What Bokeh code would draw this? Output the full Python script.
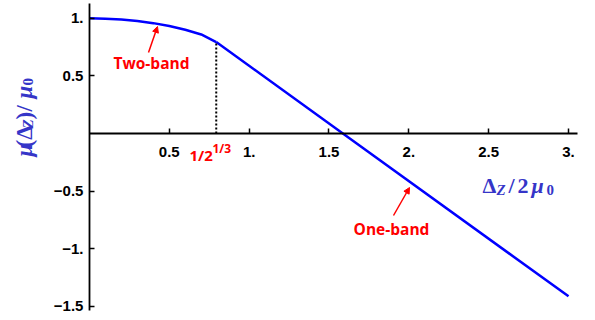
from bokeh.plotting import figure
from bokeh.models import Range1d, LinearAxis, FixedTicker, Label, Arrow, NormalHead
from bokeh.embed import file_html
from bokeh.resources import INLINE
import math

# ---- data ----
x_two = [0.0, 0.1, 0.2, 0.3, 0.4, 0.5, 0.6, 0.7, 0.794]
y_two = [1.0, 0.997, 0.99, 0.977, 0.958, 0.933, 0.9, 0.86, 0.794]
x_one = [0.794, 1.587, 3.0]
y_one = [0.794, 0.0, -1.413]
x_threshold = 0.794
x_ticks = [0.5, 1.0, 1.5, 2.0, 2.5, 3.0]
x_tick_labels = ["0.5", "1.", "1.5", "2.", "2.5", "3."]
y_ticks = [-1.5, -1.0, -0.5, 0.5, 1.0]
y_tick_labels = ["\u22121.5", "\u22121.", "\u22120.5", "0.5", "1."]

W, H = 595, 320
X0, X1 = -0.557, 3.169
Y0, Y1 = -1.623, 1.1545

def px(ix, iy):
    # reference picture pixel -> data coordinates
    return X0 + ix / W * (X1 - X0), Y1 - iy / H * (Y1 - Y0)

BLUE = "#0000ff"
LBL = "#3535c8"
RED = "#ff0000"

p = figure(width=W, height=H, x_range=Range1d(X0, X1), y_range=Range1d(Y0, Y1),
           output_backend="svg", toolbar_location=None, min_border=0,
           x_axis_location=None, y_axis_location=None)
p.grid.visible = False
p.outline_line_color = None
p.background_fill_color = "white"

def style_axis(ax):
    ax.axis_line_width = 1.8
    ax.axis_line_color = "black"
    ax.major_tick_in = 5
    ax.major_tick_out = 0
    ax.major_tick_line_width = 1.5
    ax.minor_tick_line_color = None
    ax.major_label_text_font = "Liberation Sans"
    ax.major_label_text_font_style = "bold"
    ax.major_label_text_font_size = "15px"
    ax.major_label_text_color = "black"

xaxis = LinearAxis(fixed_location=0, ticker=FixedTicker(ticks=x_ticks),
                   major_label_overrides=dict(zip(x_ticks, x_tick_labels)),
                   bounds=(0, 3.056))
style_axis(xaxis)
xaxis.major_label_standoff = 13
p.add_layout(xaxis, "below")

yaxis = LinearAxis(fixed_location=0, ticker=FixedTicker(ticks=y_ticks),
                   major_label_overrides=dict(zip(y_ticks, y_tick_labels)),
                   bounds=(-1.536, 1.128))
style_axis(yaxis)
yaxis.major_label_standoff = 6
p.add_layout(yaxis, "left")

# curves
p.line(x_two, y_two, line_color=BLUE, line_width=2.5)
p.line(x_one, y_one, line_color=BLUE, line_width=2.5)
p.line([x_threshold, x_threshold], [0, y_one[0]], line_color="black",
       line_width=2, line_dash="2 2")

# annotations
def lab(ix, iy, text, size, font="Open Sans", style="bold", color=RED,
        align="center", baseline="middle", angle=0.0):
    x, y = px(ix, iy)
    p.add_layout(Label(x=x, y=y, text=text, text_font=font, text_font_style=style,
                       text_font_size=size, text_color=color, text_align=align,
                       text_baseline=baseline, angle=angle))

lab(151, 62, "Two-band", "15.5px")
lab(391, 228, "One-band", "15.5px")
lab(189, 154, "1/2", "15px", align="left")
lab(212, 148, "1/3", "12px", align="left")

for (a, b, c, d) in [(148, 52, 157, 26), (393, 215, 409, 187)]:
    xs, ys = px(a, b)
    xe, ye = px(c, d)
    p.add_layout(Arrow(x_start=xs, y_start=ys, x_end=xe, y_end=ye,
                       line_color=RED, line_width=1.5,
                       end=NormalHead(size=6, fill_color=RED, line_color=RED)))

# x axis label: Δ_Z/2μ_0
SERIF = "Liberation Serif"
lab(482, 185, "\u0394", "22px", font=SERIF, style="bold", color=LBL, align="left", baseline="alphabetic")
lab(496, 189, "Z", "15px", font=SERIF, style="bold italic", color=LBL, align="left", baseline="alphabetic")
lab(508, 185, "/", "22px", font=SERIF, style="bold", color=LBL, align="left", baseline="alphabetic")
lab(517, 185, "2", "22px", font=SERIF, style="bold", color=LBL, align="left", baseline="alphabetic")
lab(531, 185, "\u03bc", "22px", font=SERIF, style="bold italic", color=LBL, align="left", baseline="alphabetic")
lab(546, 189, "0", "15px", font=SERIF, style="bold", color=LBL, align="left", baseline="alphabetic")

# y axis label: μ(Δ_Z)/μ_0 rotated
R = math.pi / 2
BX, SX = 24, 27
lab(BX, 156, "\u03bc", "23px", font=SERIF, style="bold italic", color=LBL, align="left", baseline="alphabetic", angle=R)
lab(BX, 147, "(\u0394", "23px", font=SERIF, style="bold", color=LBL, align="left", baseline="alphabetic", angle=R)
lab(SX, 128, "Z", "15px", font=SERIF, style="bold italic", color=LBL, align="left", baseline="alphabetic", angle=R)
lab(BX, 119, ")", "23px", font=SERIF, style="bold", color=LBL, align="left", baseline="alphabetic", angle=R)
lab(BX, 111, "/", "23px", font=SERIF, style="bold", color=LBL, align="left", baseline="alphabetic", angle=R)
lab(BX, 98, "\u03bc", "23px", font=SERIF, style="bold italic", color=LBL, align="left", baseline="alphabetic", angle=R)
lab(SX, 85, "0", "15px", font=SERIF, style="bold", color=LBL, align="left", baseline="alphabetic", angle=R)

open("out.html", "w").write(file_html(p, INLINE))
